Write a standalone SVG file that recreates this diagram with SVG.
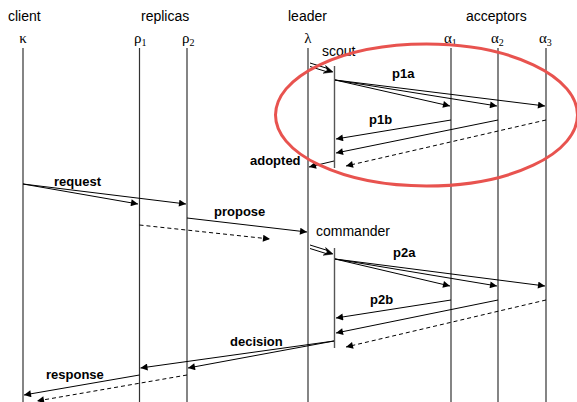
<svg xmlns="http://www.w3.org/2000/svg" width="577" height="402" viewBox="0 0 577 402">
  <style>
    .hdr { font-family: "Liberation Sans", Arial, sans-serif; font-size: 14px; fill: #000; }
    .greek { font-family: "Liberation Serif", "DejaVu Serif", serif; font-size: 15px; fill: #000; }
    .sub { font-size: 10px; }
    .msg { font-family: "Liberation Sans", Arial, sans-serif; font-size: 13px; font-weight: bold; fill: #000; }
    .life { stroke: #333; stroke-width: 1.2; fill: none; }
    .act { stroke: #555; stroke-width: 1.4; fill: none; }
    .arr { stroke: #000; stroke-width: 1; fill: none; marker-end: url(#head); }
    .dash { stroke: #000; stroke-width: 1; fill: none; stroke-dasharray: 4 3; marker-end: url(#head); }
    .spawn { stroke: #000; stroke-width: 1; fill: none; }
    .spawnhead { fill: #000; stroke: #000; stroke-width: 0.6; stroke-linejoin: round; }
  </style>
  <defs>
    <marker id="head" viewBox="0 0 10 10" refX="10" refY="5" markerWidth="9" markerHeight="7" markerUnits="userSpaceOnUse" orient="auto">
      <path d="M0,0 L10,5 L0,10 z" fill="#000"/>
    </marker>
  </defs>

  <!-- role headings -->
  <g id="headings">
    <text class="hdr" x="8" y="21">client</text>
    <text class="hdr" x="141" y="21">replicas</text>
    <text class="hdr" x="288" y="21">leader</text>
    <text class="hdr" x="466" y="21">acceptors</text>
  </g>

  <!-- process lifelines -->
  <g id="client">
    <text class="greek" x="23" y="43" text-anchor="middle">κ</text>
    <line class="life" x1="23" y1="48" x2="23" y2="402"/>
  </g>
  <g id="replica1">
    <text class="greek" x="134" y="43">ρ<tspan class="sub" dy="3">1</tspan></text>
    <line class="life" x1="139.5" y1="48" x2="139.5" y2="402"/>
  </g>
  <g id="replica2">
    <text class="greek" x="182" y="43">ρ<tspan class="sub" dy="3">2</tspan></text>
    <line class="life" x1="187" y1="48" x2="187" y2="402"/>
  </g>
  <g id="leader">
    <text class="greek" x="308" y="43" text-anchor="middle">λ</text>
    <line class="life" x1="308" y1="48" x2="308" y2="402"/>
  </g>
  <g id="acceptor1">
    <text class="greek" x="444" y="43">α<tspan class="sub" dy="3">1</tspan></text>
    <line class="life" x1="451" y1="48" x2="451" y2="402"/>
  </g>
  <g id="acceptor2">
    <text class="greek" x="491" y="43">α<tspan class="sub" dy="3">2</tspan></text>
    <line class="life" x1="498" y1="48" x2="498" y2="402"/>
  </g>
  <g id="acceptor3">
    <text class="greek" x="539" y="43">α<tspan class="sub" dy="3">3</tspan></text>
    <line class="life" x1="546" y1="48" x2="546" y2="402"/>
  </g>

  <!-- short-lived sub-processes -->
  <g id="scout">
    <text class="hdr" x="322" y="56">scout</text>
    <line class="act" x1="334.5" y1="66" x2="334.5" y2="168"/>
  </g>
  <g id="commander">
    <text class="hdr" x="316" y="236">commander</text>
    <line class="act" x1="334.5" y1="248" x2="334.5" y2="348"/>
  </g>

  <!-- messages -->
  <g id="connectors">
    <!-- spawn scout (double-shafted arrow) -->
    <line class="spawn" x1="310" y1="63" x2="327" y2="68.3"/>
    <line class="spawn" x1="310" y1="66.5" x2="326" y2="71.5"/>
    <polygon class="spawnhead" points="333,72 325.6,65.6 327.3,70.3 323.2,73.2"/>

    <!-- phase 1a -->
    <line class="arr" x1="335" y1="80" x2="450" y2="106"/>
    <line class="arr" x1="335" y1="80" x2="497" y2="106"/>
    <line class="arr" x1="335" y1="80" x2="545" y2="106"/>

    <!-- phase 1b -->
    <line class="arr" x1="451" y1="120" x2="336" y2="139"/>
    <line class="arr" x1="498" y1="120" x2="336" y2="153"/>
    <line class="dash" x1="546" y1="120" x2="346" y2="166"/>

    <!-- adopted -->
    <line class="arr" x1="334" y1="161" x2="309" y2="167"/>

    <!-- request -->
    <line class="arr" x1="23" y1="184" x2="138" y2="204"/>
    <line class="arr" x1="23" y1="184" x2="186" y2="204"/>

    <!-- propose -->
    <line class="arr" x1="187" y1="218" x2="307" y2="232"/>
    <line class="dash" x1="139.5" y1="225" x2="270" y2="239"/>

    <!-- spawn commander (double-shafted arrow) -->
    <line class="spawn" x1="310" y1="245" x2="327" y2="250.3"/>
    <line class="spawn" x1="310" y1="248.5" x2="326" y2="253.5"/>
    <polygon class="spawnhead" points="333,254 325.6,247.6 327.3,252.3 323.2,255.2"/>

    <!-- phase 2a -->
    <line class="arr" x1="335" y1="259" x2="450" y2="286"/>
    <line class="arr" x1="335" y1="259" x2="497" y2="286"/>
    <line class="arr" x1="335" y1="259" x2="545" y2="286"/>

    <!-- phase 2b -->
    <line class="arr" x1="451" y1="300" x2="336" y2="318"/>
    <line class="arr" x1="498" y1="300" x2="336" y2="333"/>
    <line class="dash" x1="546" y1="300" x2="346" y2="347"/>

    <!-- decision -->
    <line class="arr" x1="334" y1="341" x2="140.5" y2="368"/>
    <line class="arr" x1="334" y1="341" x2="188" y2="368"/>

    <!-- response -->
    <line class="arr" x1="139.5" y1="375" x2="24" y2="395"/>
    <line class="dash" x1="187" y1="375" x2="37" y2="401"/>
  </g>

  <!-- message labels -->
  <g id="labels">
    <text class="msg" x="392" y="78">p1a</text>
    <text class="msg" x="369" y="124">p1b</text>
    <text class="msg" x="250" y="165">adopted</text>
    <text class="msg" x="54" y="186">request</text>
    <text class="msg" x="214" y="216">propose</text>
    <text class="msg" x="393" y="257">p2a</text>
    <text class="msg" x="370" y="304">p2b</text>
    <text class="msg" x="230" y="346">decision</text>
    <text class="msg" x="46" y="379">response</text>
  </g>

  <!-- highlight around phase 1 -->
  <ellipse cx="426.5" cy="115" rx="151" ry="71" fill="none" stroke="#e8534f" stroke-width="3"/>
</svg>
